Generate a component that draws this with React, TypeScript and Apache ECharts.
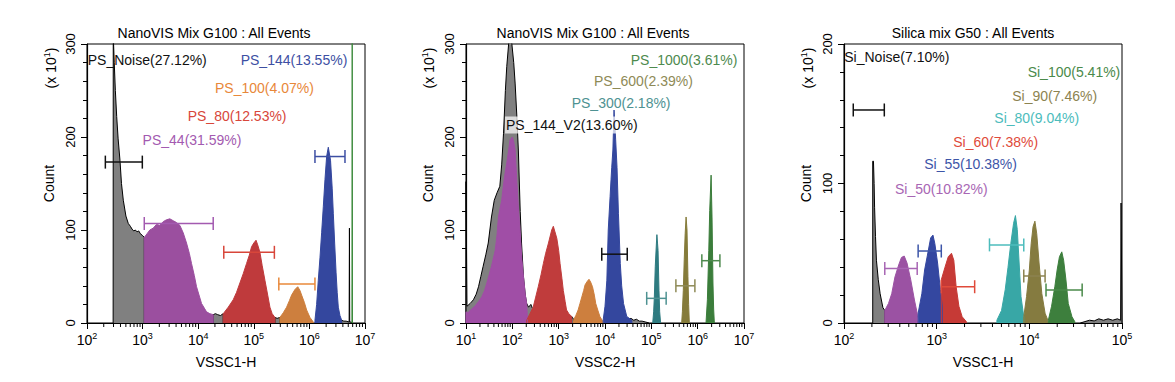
import React, { useEffect, useRef } from "react";
import * as echarts from "echarts";

type Pt = [number, number];
const FONT = '"Liberation Sans", Arial, Helvetica, sans-serif';

// ---------- panel meta ----------
const titles = ["NanoVIS Mix G100 : All Events", "NanoVIS Mix G100 : All Events", "Silica mix G50 : All Events"];
const xAxisNames = ["VSSC1-H", "VSSC2-H", "VSSC1-H"];
const yAxisName = "Count";
const yScaleNote = ["(x 10", "1", ")"];
const xDecadeMin = [2, 1, 2];
const xDecadeMax = [7, 7, 5];
const yMaxes = [300, 300, 200];
const yInterval = 100;

// ---------- histogram data: x = log10(channel), y = count (x10^1) ----------
// Panel 1
const p1Noise: Pt[] = [[2.47,0],[2.472,310],[2.49,280],[2.51,250],[2.534,222],[2.56,198],[2.593,175],[2.62,150],[2.653,132],[2.70,115],[2.743,107],[2.78,104],[2.81,101],[2.84,99],[2.87,100],[2.90,98],[2.93,99],[2.96,96],[3.0,94],[3.03,92],[3.03,0]];
const p1Gray2: Pt[] = [[4.27,0],[4.27,9],[4.31,10],[4.35,9],[4.40,8],[4.45,10],[4.45,0]];
const p1Gray3: Pt[] = [[5.38,0],[5.38,6],[5.42,5],[5.47,6],[5.47,0]];
const p1Gray4: Pt[] = [[6.58,0],[6.58,3],[6.62,2],[6.66,2],[6.715,1],[6.72,102],[6.725,1],[6.75,1],[6.77,0]];
const p1PS44: Pt[] = [[3.03,0],[3.03,92],[3.08,96],[3.13,100],[3.19,102],[3.25,106],[3.31,105],[3.37,109],[3.43,111],[3.49,112],[3.55,110],[3.61,108],[3.67,105],[3.73,97],[3.79,86],[3.84,75],[3.88,64],[3.93,51],[3.97,39],[4.02,29],[4.06,21],[4.11,16],[4.15,12],[4.21,10],[4.27,9],[4.27,0]];
const p1PS80: Pt[] = [[4.45,0],[4.45,10],[4.54,17],[4.63,25],[4.69,33],[4.75,43],[4.81,53],[4.87,64],[4.92,73],[4.96,82],[5.00,86],[5.04,89],[5.07,84],[5.11,76],[5.15,62],[5.20,46],[5.25,30],[5.29,17],[5.33,10],[5.38,6],[5.38,0]];
const p1PS100: Pt[] = [[5.47,0],[5.47,6],[5.53,11],[5.59,17],[5.64,24],[5.68,30],[5.74,36],[5.79,39],[5.83,35],[5.86,30],[5.91,22],[5.95,14],[6.01,6],[6.07,1],[6.07,0]];
const p1PS144: Pt[] = [[6.10,0],[6.10,3],[6.13,20],[6.16,46],[6.19,70],[6.22,97],[6.25,125],[6.28,154],[6.31,179],[6.34,189],[6.38,175],[6.41,145],[6.43,118],[6.455,85],[6.48,54],[6.50,33],[6.52,17],[6.55,8],[6.58,3],[6.58,0]];
const p1Sat: Pt[] = [[6.765,0],[6.77,320],[6.775,0]];

// Panel 2
const p2Gray1: Pt[] = [[1.0,0],[1.0,152],[1.012,152],[1.02,18],[1.09,21],[1.16,25],[1.22,31],[1.27,39],[1.32,50],[1.37,61],[1.43,74],[1.48,86],[1.55,114],[1.61,132],[1.67,140],[1.73,147],[1.77,170],[1.81,204],[1.85,250],[1.88,276],[1.92,300],[1.95,312],[1.99,300],[2.03,280],[2.06,258],[2.10,220],[2.13,186],[2.17,120],[2.20,85],[2.24,50],[2.28,30],[2.31,21],[2.35,17],[2.40,20],[2.44,15],[2.46,0]];
const p2Gray2: Pt[] = [[3.28,0],[3.28,7],[3.30,6],[3.32,4],[3.32,0]];
const p2Gray3: Pt[] = [[4.50,0],[4.50,4],[4.56,5],[4.62,3],[4.68,4],[4.74,2],[4.80,2],[4.88,1],[4.95,0]];
const p2Purple: Pt[] = [[1.0,0],[1.0,12],[1.04,11],[1.12,15],[1.19,18],[1.27,23],[1.34,28],[1.40,35],[1.45,43],[1.50,52],[1.55,61],[1.63,78],[1.67,95],[1.70,114],[1.77,132],[1.805,147],[1.84,160],[1.88,172],[1.92,186],[1.95,197],[2.0,200],[2.03,195],[2.06,186],[2.10,150],[2.13,125],[2.17,97],[2.20,72],[2.24,50],[2.28,30],[2.31,21],[2.33,0]];
const p2Red: Pt[] = [[2.31,0],[2.31,3],[2.38,10],[2.45,17],[2.50,27],[2.56,39],[2.62,52],[2.67,64],[2.72,75],[2.78,86],[2.85,100],[2.885,104],[2.92,98],[2.96,91],[3.00,78],[3.03,64],[3.07,48],[3.10,35],[3.14,23],[3.17,14],[3.22,10],[3.28,7],[3.28,0]];
const p2Orange: Pt[] = [[3.32,0],[3.32,3],[3.37,8],[3.42,14],[3.46,21],[3.50,28],[3.54,35],[3.57,41],[3.62,45],[3.655,47],[3.69,44],[3.73,39],[3.77,30],[3.80,21],[3.85,13],[3.89,7],[3.96,1],[3.96,0]];
const p2Blue: Pt[] = [[3.96,0],[3.96,3],[4.00,18],[4.04,46],[4.07,100],[4.11,136],[4.13,154],[4.145,167],[4.17,186],[4.195,229],[4.23,197],[4.26,167],[4.29,118],[4.33,64],[4.36,40],[4.40,21],[4.47,7],[4.58,3],[4.58,0]];
const p2Teal: Pt[] = [[5.03,0],[5.05,12],[5.065,28],[5.085,61],[5.11,86],[5.12,95],[5.135,85],[5.145,78],[5.165,35],[5.18,12],[5.20,0]];
const p2Olive: Pt[] = [[5.655,0],[5.67,12],[5.69,35],[5.71,68],[5.73,96],[5.75,114],[5.77,100],[5.79,50],[5.805,20],[5.82,0]];
const p2Green: Pt[] = [[6.18,0],[6.21,25],[6.24,78],[6.26,121],[6.29,159],[6.31,114],[6.33,43],[6.345,15],[6.36,0]];

// Panel 3
const p3Gray1: Pt[] = [[2.31,0],[2.31,116],[2.318,116],[2.325,100],[2.33,83],[2.34,62],[2.35,45],[2.37,31],[2.39,21],[2.42,11],[2.44,9],[2.44,0]];
const p3Gray2: Pt[] = [[4.55,0],[4.60,1],[4.65,2],[4.70,1.5],[4.75,3],[4.80,2],[4.85,3],[4.90,2],[4.95,3],[4.985,2],[4.99,86],[4.995,86],[5.0,0]];
const p3Purple: Pt[] = [[2.44,0],[2.44,9],[2.48,14],[2.515,21],[2.55,33],[2.59,41.6],[2.62,47],[2.65,48],[2.68,43],[2.72,31],[2.76,16.5],[2.79,7],[2.80,0]];
const p3Blue: Pt[] = [[2.80,0],[2.80,7],[2.84,21],[2.87,38],[2.91,52],[2.935,61],[2.96,63],[2.98,57],[3.01,43],[3.04,24],[3.06,12],[3.06,0]];
const p3Red: Pt[] = [[3.05,0],[3.05,31],[3.09,40],[3.125,47.5],[3.16,50],[3.185,45],[3.21,26],[3.24,12],[3.275,4.5],[3.32,1],[3.32,0]];
const p3Teal: Pt[] = [[3.65,0],[3.65,2],[3.70,9],[3.74,24],[3.77,40],[3.80,57],[3.83,71.5],[3.85,77],[3.87,67],[3.89,43],[3.91,19],[3.94,4.5],[3.94,0]];
const p3Olive: Pt[] = [[3.94,0],[3.94,4.5],[3.97,19],[4.00,38],[4.02,57],[4.04,69],[4.06,73],[4.08,64],[4.105,43],[4.135,21],[4.17,7],[4.20,2],[4.20,0]];
const p3Green: Pt[] = [[4.205,0],[4.205,2],[4.24,12],[4.275,26],[4.30,38],[4.325,47.5],[4.35,51],[4.37,45],[4.395,31],[4.42,14],[4.46,4.5],[4.49,1],[4.49,0]];

// ---------- gates ----------
const p1GateNames = ["PS_Noise", "PS_144", "PS_100", "PS_80", "PS_44"];
const p1GatePct = ["27.12%", "13.55%", "4.07%", "12.53%", "31.59%"];
const p1GateRanges: [number, number, number][] = [[2.33,2.995,173],[6.10,6.64,179],[5.45,6.10,42],[4.46,5.37,76],[3.03,4.27,107]];
const p1LabelAnchors: Pt[] = [[2.013,282.8],[4.764,282.8],[4.302,252.7],[3.811,222.6],[3.0,196.8]];
const p1GateColors = ["#111111", "#3d4fa3", "#e8883a", "#d8463a", "#a35ab0"];

const p2GateNames = ["PS_1000", "PS_600", "PS_300", "PS_144_V2"];
const p2GatePct = ["3.61%", "2.39%", "2.18%", "13.60%"];
const p2GateRanges: [number, number, number][] = [[6.09,6.48,67],[5.53,5.94,40],[4.90,5.32,26.5],[3.93,4.48,74]];
const p2LabelAnchors: Pt[] = [[4.555,282.8],[3.763,260.2],[3.281,236.9],[1.842,212.9]];
const p2GateColors = ["#4e8a4e", "#8e8a56", "#4e9292", "#111111"];

const p3GateNames = ["Si_Noise", "Si_100", "Si_90", "Si_80", "Si_60", "Si_55", "Si_50"];
const p3GatePct = ["7.10%", "5.41%", "7.46%", "9.04%", "7.38%", "10.38%", "10.82%"];
const p3GateRanges: [number, number, number][] = [[2.10,2.435,152.7],[4.18,4.57,23.7],[3.94,4.17,33.7],[3.57,3.94,56],[3.05,3.41,26],[2.80,3.05,51.6],[2.44,2.79,39]];
const p3LabelAnchors: Pt[] = [[2.003,190.5],[3.982,180.1],[3.816,162.7],[3.622,146.7],[3.179,130.0],[2.866,114.0],[2.55,95.8]];
const p3GateColors = ["#111111", "#4a8a4a", "#8c8350", "#4cbcbc", "#e04a3a", "#3d55a8", "#a866b4"];

// ---------- styling ----------
const GRAY = "#808080";
const gridLefts = [87, 466, 844];
const gridTop = 44;
const gridW = 278;
const gridH = 279;
const titleCenters = [214, 593, 973];
const noteCenters = [50, 428, 807];

function areaSeries(panel: number, data: Pt[], fill: string, outline: string, z: number) {
  return {
    type: "line",
    xAxisIndex: panel,
    yAxisIndex: panel,
    data,
    symbol: "none",
    showSymbol: false,
    silent: true,
    z,
    lineStyle: { color: outline, width: 1 },
    areaStyle: { color: fill, opacity: 1 },
  };
}

function gateSeries(panel: number, ranges: [number, number, number][], colors: string[]) {
  return {
    type: "custom",
    xAxisIndex: panel,
    yAxisIndex: panel,
    silent: true,
    z: 10,
    encode: { x: [0, 1], y: 2 },
    data: ranges,
    renderItem: (params: any, api: any) => {
      const a = api.coord([api.value(0), api.value(2)]);
      const b = api.coord([api.value(1), api.value(2)]);
      const col = colors[params.dataIndex];
      const h = 6.5;
      const st = { stroke: col, lineWidth: 1.5 };
      return {
        type: "group",
        children: [
          { type: "line", shape: { x1: a[0], y1: a[1], x2: b[0], y2: b[1] }, style: st },
          { type: "line", shape: { x1: a[0], y1: a[1] - h, x2: a[0], y2: a[1] + h }, style: st },
          { type: "line", shape: { x1: b[0], y1: b[1] - h, x2: b[0], y2: b[1] + h }, style: st },
        ],
      };
    },
  };
}

function labelSeries(panel: number, anchors: Pt[], names: string[], pcts: string[], colors: string[], boxed: number) {
  return {
    type: "custom",
    xAxisIndex: panel,
    yAxisIndex: panel,
    silent: true,
    z: 12,
    encode: { x: 0, y: 1 },
    data: anchors,
    renderItem: (params: any, api: any) => {
      const c = api.coord([api.value(0), api.value(1)]);
      const i = params.dataIndex;
      const style: any = {
        text: `${names[i]}(${pcts[i]})`,
        fill: colors[i],
        fontSize: 14,
        fontFamily: FONT,
        align: "left",
        verticalAlign: "middle",
      };
      if (i === boxed) {
        style.backgroundColor = "rgba(255,255,255,0.72)";
        style.padding = [2, 1, 1, 1];
      }
      return { type: "text", x: c[0], y: c[1], style };
    },
  };
}

function minorTickSeries(panel: number) {
  const ticks: Pt[] = [];
  for (let n = xDecadeMin[panel]; n < xDecadeMax[panel]; n++) {
    for (let k = 2; k <= 9; k++) ticks.push([n + Math.log10(k), 0]);
  }
  return {
    type: "custom",
    xAxisIndex: panel,
    yAxisIndex: panel,
    silent: true,
    clip: false,
    z: 20,
    encode: { x: 0, y: 1 },
    data: ticks,
    renderItem: (_p: any, api: any) => {
      const c = api.coord([api.value(0), api.value(1)]);
      return { type: "line", shape: { x1: c[0], y1: c[1], x2: c[0], y2: c[1] + 4 }, style: { stroke: "#000", lineWidth: 1 } };
    },
  };
}

export default function App() {
  const ref = useRef<HTMLDivElement>(null);
  useEffect(() => {
    if (!ref.current) return;
    const chart = echarts.init(ref.current, undefined, { renderer: "svg" });

    const grids = gridLefts.map((l) => ({ left: l, top: gridTop, width: gridW, height: gridH, show: true, borderColor: "#000", borderWidth: 1, backgroundColor: "transparent" }));
    const xAxes = [0, 1, 2].map((i) => ({
      type: "value",
      gridIndex: i,
      min: xDecadeMin[i],
      max: xDecadeMax[i],
      interval: 1,
      name: xAxisNames[i],
      nameLocation: "middle",
      nameGap: 32,
      nameTextStyle: { fontSize: 14, color: "#000", fontFamily: FONT },
      axisLine: { show: true, onZero: false, lineStyle: { color: "#000", width: 1.2 } },
      axisTick: { show: true, length: 6, lineStyle: { color: "#000" } },
      splitLine: { show: false },
      axisLabel: {
        margin: 8,
        formatter: (v: number) => `{b|10}{s|${v}}`,
        rich: {
          b: { fontSize: 14, fontFamily: FONT, color: "#000", lineHeight: 16, verticalAlign: "bottom" },
          s: { fontSize: 9, fontFamily: FONT, color: "#000", lineHeight: 10, verticalAlign: "top" },
        },
      },
    }));
    const yAxes = [0, 1, 2].map((i) => ({
      type: "value",
      gridIndex: i,
      min: 0,
      max: yMaxes[i],
      interval: yInterval,
      name: yAxisName,
      nameLocation: "middle",
      nameGap: 31,
      nameRotate: 90,
      nameTextStyle: { fontSize: 14, color: "#000", fontFamily: FONT },
      axisLine: { show: true, lineStyle: { color: "#000", width: 1.2 } },
      axisTick: { show: true, length: 6, lineStyle: { color: "#000" } },
      minorTick: { show: true, splitNumber: 5, length: 4, lineStyle: { color: "#000" } },
      splitLine: { show: false },
      minorSplitLine: { show: false },
      axisLabel: { rotate: 90, margin: 10, fontSize: 13, color: "#000", fontFamily: FONT },
    }));

    const series: any[] = [
      // panel 1
      areaSeries(0, p1Noise, GRAY, "#000", 2),
      areaSeries(0, p1Gray2, GRAY, "#000", 2),
      areaSeries(0, p1Gray3, GRAY, "#000", 2),
      areaSeries(0, p1Gray4, GRAY, "#000", 2),
      areaSeries(0, p1PS44, "#9b4f9f", "#9b4f9f", 3),
      areaSeries(0, p1PS80, "#bf3a3c", "#bf3a3c", 3),
      areaSeries(0, p1PS100, "#cd7f3e", "#cd7f3e", 3),
      areaSeries(0, p1PS144, "#34479e", "#34479e", 3),
      areaSeries(0, p1Sat, "#3c8a3c", "#3c8a3c", 3),
      gateSeries(0, p1GateRanges, p1GateColors),
      labelSeries(0, p1LabelAnchors, p1GateNames, p1GatePct, p1GateColors, -1),
      minorTickSeries(0),
      // panel 2
      areaSeries(1, p2Gray1, GRAY, "#000", 2),
      areaSeries(1, p2Gray2, GRAY, "#000", 2),
      areaSeries(1, p2Gray3, GRAY, "#000", 2),
      areaSeries(1, p2Purple, "#a04ea6", "#a04ea6", 3),
      areaSeries(1, p2Red, "#c03c3c", "#c03c3c", 3),
      areaSeries(1, p2Orange, "#cd7f3e", "#cd7f3e", 3),
      areaSeries(1, p2Blue, "#34479e", "#34479e", 3),
      areaSeries(1, p2Teal, "#2e7b80", "#2e7b80", 3),
      areaSeries(1, p2Olive, "#857b3a", "#857b3a", 3),
      areaSeries(1, p2Green, "#3b7d3b", "#3b7d3b", 3),
      gateSeries(1, p2GateRanges, p2GateColors),
      labelSeries(1, p2LabelAnchors, p2GateNames, p2GatePct, p2GateColors, 3),
      minorTickSeries(1),
      // panel 3
      areaSeries(2, p3Gray1, GRAY, "#000", 2),
      areaSeries(2, p3Gray2, GRAY, "#000", 2),
      areaSeries(2, p3Purple, "#9b52a3", "#9b52a3", 3),
      areaSeries(2, p3Blue, "#3447a0", "#3447a0", 3),
      areaSeries(2, p3Red, "#c63a36", "#c63a36", 3),
      areaSeries(2, p3Teal, "#38a7a6", "#38a7a6", 3),
      areaSeries(2, p3Olive, "#857b40", "#857b40", 3),
      areaSeries(2, p3Green, "#3d7f3d", "#3d7f3d", 3),
      gateSeries(2, p3GateRanges, p3GateColors),
      labelSeries(2, p3LabelAnchors, p3GateNames, p3GatePct, p3GateColors, -1),
      minorTickSeries(2),
    ];

    const graphic: any[] = [];
    titles.forEach((t, i) => {
      graphic.push({ type: "text", x: titleCenters[i], y: 33, style: { text: t, fill: "#000", fontSize: 14, fontFamily: FONT, align: "center", verticalAlign: "middle" } });
      graphic.push({
        type: "text",
        x: noteCenters[i],
        y: 68,
        rotation: Math.PI / 2,
        style: {
          text: `{a|${yScaleNote[0]}}{s|${yScaleNote[1]}}{a|${yScaleNote[2]}}`,
          align: "center",
          verticalAlign: "middle",
          rich: {
            a: { fontSize: 14, fontFamily: FONT, fill: "#000", lineHeight: 16, verticalAlign: "bottom" },
            s: { fontSize: 9, fontFamily: FONT, fill: "#000", lineHeight: 10, verticalAlign: "top" },
          },
        },
      });
    });

    chart.setOption({
      animation: false,
      backgroundColor: "#fff",
      textStyle: { fontFamily: FONT },
      grid: grids,
      xAxis: xAxes,
      yAxis: yAxes,
      series,
      graphic,
    });
    return () => chart.dispose();
  }, []);
  return <div ref={ref} style={{ position: "fixed", left: 0, top: 0, width: 1175, height: 382 }} />;
}
